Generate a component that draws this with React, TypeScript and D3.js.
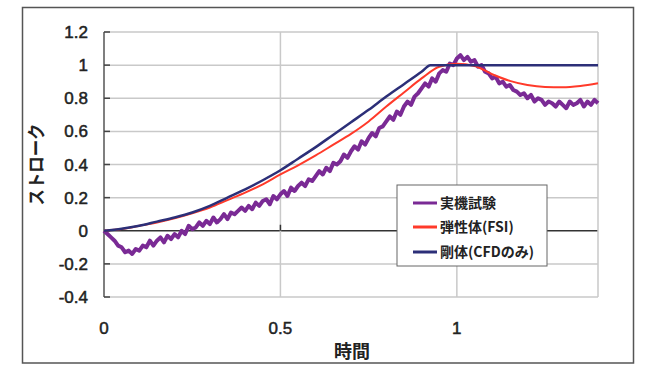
import React from 'react'
import * as d3 from 'd3'

// 軸の目盛
const xTicks = [0, 0.5, 1]
const xTickLabels = ['0', '0.5', '1']
const yTicks = [-0.4, -0.2, 0, 0.2, 0.4, 0.6, 0.8, 1, 1.2]
const yTickLabels = ['-0.4', '-0.2', '0', '0.2', '0.4', '0.6', '0.8', '1', '1.2']

// 凡例
const seriesNames = ['実機試験', '弾性体(FSI)', '剛体(CFDのみ)']
const seriesColors = ['#7a2a95', '#ff3a2a', '#2c2f78']

// 実機試験 (0.01刻み)
const expStroke = [
  0.00, -0.02, -0.04, -0.06, -0.09, -0.10, -0.13, -0.12, -0.14, -0.11,
  -0.12, -0.09, -0.10, -0.06, -0.09, -0.06, -0.04, -0.07, -0.03, -0.05,
  -0.02, -0.04, 0.00, -0.02, 0.03, 0.01, 0.02, 0.05, 0.03, 0.06,
  0.04, 0.08, 0.05, 0.07, 0.10, 0.07, 0.11, 0.10, 0.12, 0.14,
  0.12, 0.15, 0.13, 0.17, 0.15, 0.18, 0.19, 0.16, 0.21, 0.19,
  0.22, 0.24, 0.21, 0.26, 0.24, 0.27, 0.29, 0.27, 0.31, 0.30,
  0.33, 0.36, 0.34, 0.38, 0.36, 0.41, 0.40, 0.42, 0.46, 0.44,
  0.48, 0.51, 0.49, 0.54, 0.52, 0.56, 0.59, 0.57, 0.62, 0.63,
  0.66, 0.69, 0.67, 0.72, 0.70, 0.75, 0.78, 0.76, 0.81, 0.83,
  0.86, 0.89, 0.87, 0.92, 0.90, 0.95, 0.97, 0.96, 1.01, 1.00,
  1.04, 1.06, 1.03, 1.05, 1.02, 1.03, 0.99, 1.00, 0.96, 0.95,
  0.92, 0.93, 0.89, 0.90, 0.87, 0.88, 0.85, 0.84, 0.82, 0.83,
  0.80, 0.82, 0.78, 0.80, 0.79, 0.76, 0.78, 0.77, 0.75, 0.78,
  0.76, 0.74, 0.78, 0.76, 0.77, 0.79, 0.75, 0.78, 0.76, 0.79,
  0.77,
]

// 弾性体(FSI)
const fsiTime = [0, 0.05, 0.1, 0.15, 0.2, 0.25, 0.3, 0.35, 0.4, 0.45, 0.5, 0.55, 0.6, 0.65, 0.7, 0.75, 0.8, 0.85, 0.9, 0.95, 1.0, 1.05, 1.1, 1.15, 1.2, 1.25, 1.3, 1.35, 1.4]
const fsiStroke = [0, 0.01, 0.03, 0.05, 0.075, 0.105, 0.14, 0.185, 0.23, 0.28, 0.34, 0.395, 0.455, 0.52, 0.585, 0.66, 0.75, 0.835, 0.92, 0.99, 1.008, 0.995, 0.945, 0.905, 0.88, 0.868, 0.866, 0.874, 0.89]

// 剛体(CFDのみ)
const cfdTime = [0, 0.05, 0.1, 0.15, 0.2, 0.25, 0.3, 0.35, 0.4, 0.45, 0.5, 0.55, 0.6, 0.65, 0.7, 0.75, 0.8, 0.85, 0.9, 0.925, 1.0, 1.2, 1.4]
const cfdStroke = [0, 0.012, 0.03, 0.055, 0.08, 0.11, 0.15, 0.2, 0.25, 0.305, 0.365, 0.435, 0.505, 0.58, 0.655, 0.73, 0.81, 0.885, 0.96, 1.0, 1.0, 1.0, 1.0]

const W = 652
const H = 371

export default function App() {
  const x = d3.scaleLinear().domain([0, 1.4]).range([104, 598])
  const y = d3.scaleLinear().domain([-0.4, 1.2]).range([297, 32])

  const expLine = d3.line<number>()
    .x((d, i) => x(i / 100))
    .y(d => y(d))
  const fsiLine = d3.line<number>()
    .x((d, i) => x(fsiTime[i]))
    .y(d => y(d))
    .curve(d3.curveMonotoneX)
  const cfdLine = d3.line<number>()
    .x((d, i) => x(cfdTime[i]))
    .y(d => y(d))
    .curve(d3.curveMonotoneX)

  const numFont = '"Liberation Sans", Arial, sans-serif'
  const jpFont = '"Noto Sans CJK JP", sans-serif'

  const legendX = 397
  const legendY = 185
  const legendRows = [203, 227, 252]

  return (
    <svg width={W} height={H} style={{ position: 'absolute', left: 0, top: 0 }}>
      <rect x={0} y={0} width={W} height={H} fill="#fff" />
      {/* 外枠 */}
      <rect x={22.5} y={7.5} width={611} height={355.5} fill="none" stroke="#555" strokeWidth={1.5} />

      {/* グリッド */}
      {yTicks.map(t => (
        <line key={'gy' + t} x1={x(0)} x2={x(1.4)} y1={y(t)} y2={y(t)}
          stroke={t === 0 ? '#333' : '#c9c9c9'} strokeWidth={1.5} />
      ))}
      {xTicks.filter(t => t > 0).map(t => (
        <line key={'gx' + t} x1={x(t)} x2={x(t)} y1={y(1.2)} y2={y(-0.4)} stroke="#c9c9c9" strokeWidth={1.5} />
      ))}
      <line x1={x(1.4)} x2={x(1.4)} y1={y(1.2)} y2={y(-0.4)} stroke="#c9c9c9" strokeWidth={1.5} />

      {/* 軸 */}
      <line x1={x(0)} x2={x(0)} y1={y(1.2)} y2={y(-0.4)} stroke="#555" strokeWidth={1.5} />
      {yTicks.map(t => (
        <line key={'ty' + t} x1={x(0)} x2={x(0) + 6} y1={y(t)} y2={y(t)} stroke="#444" strokeWidth={1.5} />
      ))}
      {xTicks.filter(t => t > 0).map(t => (
        <line key={'tx' + t} x1={x(t)} x2={x(t)} y1={y(0)} y2={y(0) - 6} stroke="#333" strokeWidth={1.5} />
      ))}

      {/* 目盛ラベル */}
      {yTicks.map((t, i) => (
        <text key={'ly' + t} x={88} y={y(t)} dy="0.36em" textAnchor="end"
          fontFamily={numFont} fontSize={17} fill="#222" stroke="#222" strokeWidth={0.5}>
          {yTickLabels[i]}
        </text>
      ))}
      {xTicks.map((t, i) => (
        <text key={'lx' + t} x={x(t)} y={328} dy="0.36em" textAnchor="middle"
          fontFamily={numFont} fontSize={17} fill="#222" stroke="#222" strokeWidth={0.5}>
          {xTickLabels[i]}
        </text>
      ))}

      {/* 軸タイトル */}
      <text x={352} y={351} dy="0.38em" textAnchor="middle" fontFamily={jpFont}
        fontWeight="bold" fontSize={18} fill="#222">時間</text>
      <text transform={`translate(36,${(y(1.2) + y(-0.4)) / 2}) rotate(-90)`} dy="0.38em"
        textAnchor="middle" fontFamily={jpFont} fontWeight="bold" fontSize={18} fill="#222"
        textLength={82} lengthAdjust="spacingAndGlyphs">ストローク</text>

      {/* 系列 */}
      <path d={expLine(expStroke) || ''} fill="none" stroke={seriesColors[0]} strokeWidth={4} strokeLinejoin="round" />
      <path d={fsiLine(fsiStroke) || ''} fill="none" stroke={seriesColors[1]} strokeWidth={2} />
      <path d={cfdLine(cfdStroke) || ''} fill="none" stroke={seriesColors[2]} strokeWidth={2.5} />

      {/* 凡例 */}
      <rect x={legendX} y={legendY} width={150} height={81} fill="#fff" stroke="#666" strokeWidth={1} />
      {seriesNames.map((name, i) => (
        <g key={name}>
          <line x1={413} x2={437} y1={legendRows[i]} y2={legendRows[i]} stroke={seriesColors[i]} strokeWidth={3} />
          <text x={440} y={legendRows[i]} dy="0.36em" fontFamily={jpFont} fontSize={14}
            fontWeight="bold" fill="#222">{name}</text>
        </g>
      ))}
    </svg>
  )
}
